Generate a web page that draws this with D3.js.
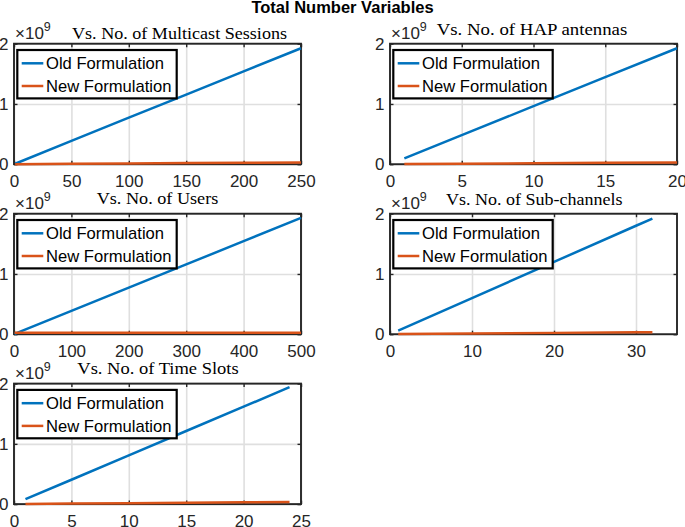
<!DOCTYPE html>
<html><head><meta charset="utf-8">
<script src="https://cdn.jsdelivr.net/npm/d3@7"></script>
<style>body{margin:0;background:#fff} svg{display:block}</style>
</head><body>
<script>
// ---- Data (number of variables, in units of 1e9) ----
const mainTitle = "Total Number Variables";
const seriesNames = ["Old Formulation", "New Formulation"];
const seriesColors = ["#0072BD", "#D95319"];
const yTicks = [0, 1, 2];
const yExponent = "9";

const sessionsX   = [1, 50, 100, 150, 200, 250];
const sessionsOld = [0.008, 0.386, 0.772, 1.156, 1.541, 1.925];
const sessionsNew = [0.000, 0.006, 0.012, 0.018, 0.024, 0.030];
const sessionsTicks = [0, 50, 100, 150, 200, 250];

const antennasX   = [1, 5, 10, 15, 20];
const antennasOld = [0.097, 0.482, 0.963, 1.444, 1.925];
const antennasNew = [0.002, 0.008, 0.015, 0.023, 0.030];
const antennasTicks = [0, 5, 10, 15, 20];

const usersX   = [1, 100, 200, 300, 400, 500];
const usersOld = [0.004, 0.386, 0.772, 1.158, 1.544, 1.930];
const usersNew = [0.025, 0.025, 0.025, 0.025, 0.025, 0.025];
const usersTicks = [0, 100, 200, 300, 400, 500];

const subchX   = [1, 10, 20, 30, 32];
const subchOld = [0.060, 0.600, 1.200, 1.800, 1.920];
const subchNew = [0.003, 0.012, 0.022, 0.032, 0.034];
const subchTicks = [0, 10, 20, 30];

const slotsX   = [1, 5, 10, 15, 20, 24];
const slotsOld = [0.081, 0.404, 0.808, 1.213, 1.617, 1.940];
const slotsNew = [0.003, 0.008, 0.015, 0.022, 0.029, 0.035];
const slotsTicks = [0, 5, 10, 15, 20, 25];

const panelTitles = ["Vs. No. of Multicast Sessions", "Vs. No. of HAP antennas",
  "Vs. No. of Users", "Vs. No. of Sub-channels", "Vs. No. of Time Slots"];
const xMax = [250, 20, 500, 35, 25];

const panels = [
  {x: sessionsX, old: sessionsOld, nw: sessionsNew, ticks: sessionsTicks},
  {x: antennasX, old: antennasOld, nw: antennasNew, ticks: antennasTicks},
  {x: usersX, old: usersOld, nw: usersNew, ticks: usersTicks},
  {x: subchX, old: subchOld, nw: subchNew, ticks: subchTicks},
  {x: slotsX, old: slotsOld, nw: slotsNew, ticks: slotsTicks}
];

// ---- Layout ----
const W = 685, H = 527;
const colLeft = [14, 390], axW = 287, axH = 120.5;
const rowTop = [43.7, 213.7, 383.6];
const titleLayout = [
  {x: 72, anchor: "start", dy: -4.6, w: 215},
  {x: 532, anchor: "middle", dy: -8.8, w: 190.6},
  {x: 157.5, anchor: "middle", dy: -9.6, w: 121.6},
  {x: 534.3, anchor: "middle", dy: -9.2, w: 176.7},
  {x: 158, anchor: "middle", dy: -9.8, w: 161.4}
];

const svg = d3.select("body").append("svg").attr("width", W).attr("height", H)
  .style("font-family", "'Liberation Sans', Arial, Helvetica, sans-serif");

svg.append("text").attr("x", 342.5).attr("y", 13).attr("text-anchor", "middle")
  .attr("font-weight", "bold").attr("font-size", 16.5).attr("fill", "#000").text(mainTitle);

const axColor = "#262626";

panels.forEach((p, i) => {
  const left = colLeft[i % 2], top = rowTop[Math.floor(i / 2)];
  const g = svg.append("g").attr("transform", `translate(${left},${top})`);
  const x = d3.scaleLinear().domain([0, xMax[i]]).range([0, axW]);
  const y = d3.scaleLinear().domain([0, 2]).range([axH, 0]);

  // grid
  const gx = g.append("g").attr("transform", `translate(0,${axH})`)
    .call(d3.axisBottom(x).tickValues(p.ticks).tickSize(-axH).tickFormat(""));
  const gy = g.append("g").call(d3.axisLeft(y).tickValues(yTicks).tickSize(-axW).tickFormat(""));
  [gx, gy].forEach(a => { a.select(".domain").remove();
    a.selectAll("line").attr("stroke", "#dfdfdf").attr("stroke-width", 1.6); });

  // tick labels
  const lx = g.append("g").attr("transform", `translate(0,${axH})`)
    .call(d3.axisBottom(x).tickValues(p.ticks).tickFormat(d3.format("d")).tickSize(0).tickPadding(10.8));
  const ly = g.append("g").call(d3.axisLeft(y).tickValues(yTicks).tickFormat(d3.format("d")).tickSize(0).tickPadding(5.5));
  [lx, ly].forEach(a => { a.select(".domain").remove();
    a.selectAll("text").attr("font-size", 17).attr("fill", axColor)
      .style("font-family", "'Liberation Sans', Arial, sans-serif"); });

  // box
  g.append("rect").attr("x", 0).attr("y", 0).attr("width", axW).attr("height", axH)
    .attr("fill", "none").attr("stroke", axColor).attr("stroke-width", 1.9);

  // inward ticks on all four sides
  const tk = 3.5;
  const tb = g.append("g").attr("transform", `translate(0,${axH})`)
    .call(d3.axisBottom(x).tickValues(p.ticks).tickSize(-tk).tickFormat(""));
  const tt = g.append("g").call(d3.axisTop(x).tickValues(p.ticks).tickSize(-tk).tickFormat(""));
  const tl = g.append("g").call(d3.axisLeft(y).tickValues(yTicks).tickSize(-tk).tickFormat(""));
  const tr = g.append("g").attr("transform", `translate(${axW},0)`)
    .call(d3.axisRight(y).tickValues(yTicks).tickSize(-tk).tickFormat(""));
  [tb, tt, tl, tr].forEach(a => { a.select(".domain").remove();
    a.selectAll("line").attr("stroke", axColor).attr("stroke-width", 1.4); });

  // lines
  const line = d3.line().x(d => x(d[0])).y(d => y(d[1]));
  [p.old, p.nw].forEach((vals, k) => {
    g.append("path").datum(p.x.map((xv, j) => [xv, vals[j]]))
      .attr("d", line).attr("fill", "none").attr("stroke", seriesColors[k])
      .attr("stroke-width", 2.5).attr("stroke-linecap", "butt");
  });

  // exponent label
  const ex = g.append("text").attr("x", 1).attr("y", -4.4).attr("font-size", 17)
    .attr("fill", axColor);
  ex.append("tspan").text("\u00d710");
  ex.append("tspan").attr("dy", -8).attr("font-size", 12.5).text(yExponent);

  // title
  const tl2 = titleLayout[i];
  svg.append("text").attr("x", tl2.x).attr("y", top + tl2.dy)
    .attr("text-anchor", tl2.anchor)
    .attr("font-size", 16.5).attr("fill", "#000")
    .style("font-family", "'Liberation Serif', 'Times New Roman', serif")
    .attr("textLength", tl2.w).attr("lengthAdjust", "spacingAndGlyphs")
    .text(panelTitles[i]);

  // legend
  const lg = g.append("g").attr("transform", "translate(3.3,6.3)");
  lg.append("rect").attr("width", 159.4).attr("height", 48.4)
    .attr("fill", "#fff").attr("stroke", "#000").attr("stroke-width", 2.2);
  seriesNames.forEach((name, k) => {
    const cy = 13.3 + k * 22.7;
    lg.append("line").attr("x1", 4.4).attr("x2", 26).attr("y1", cy).attr("y2", cy)
      .attr("stroke", seriesColors[k]).attr("stroke-width", 2.5);
    lg.append("text").attr("x", 28.7).attr("y", cy + 6).attr("font-size", 16.6)
      .attr("fill", "#000").text(name);
  });
});
</script>
</body></html>
